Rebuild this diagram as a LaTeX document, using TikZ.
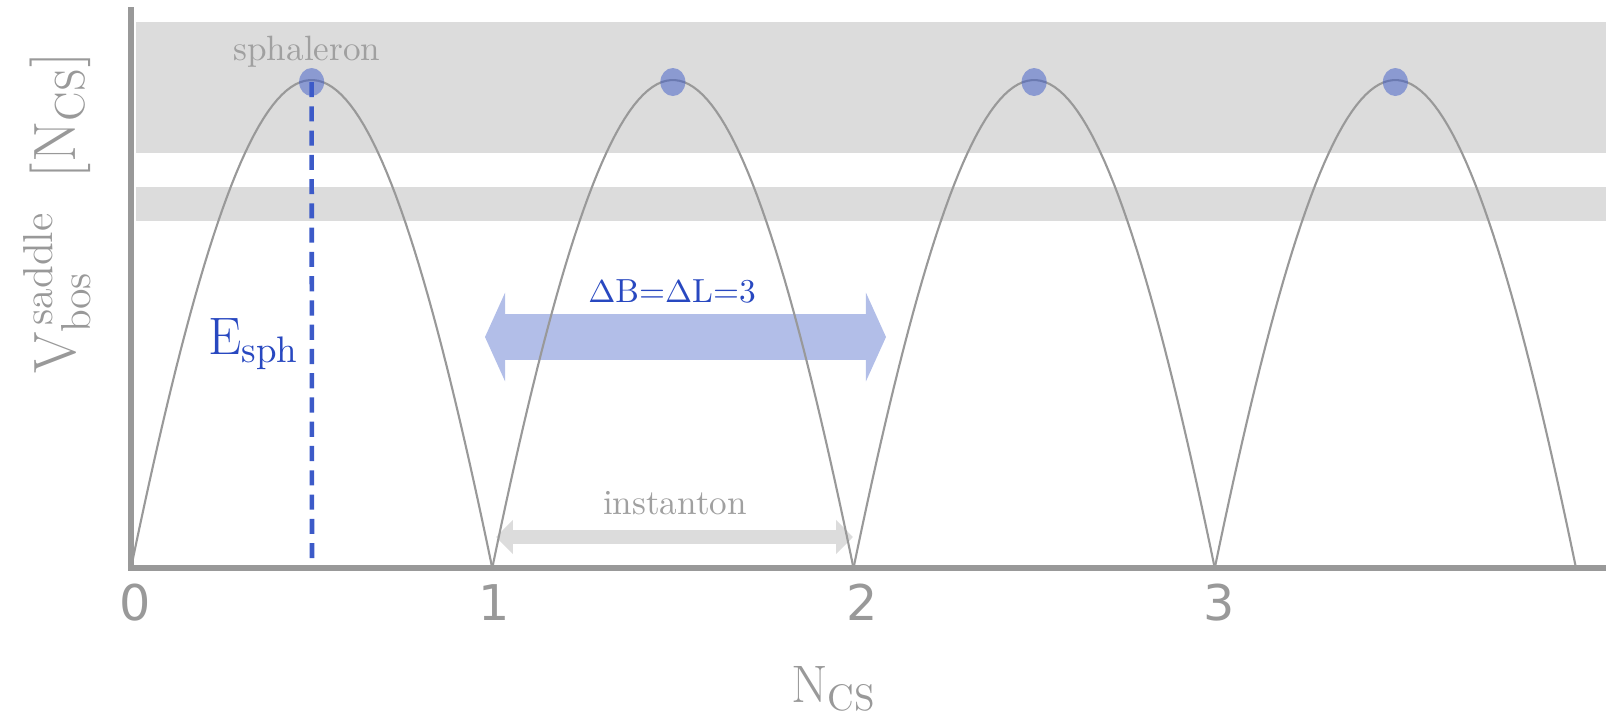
\documentclass[tikz,border=0pt]{standalone}
\usepackage{fontspec}
\newfontfamily\tickfont{DejaVu Sans}
\usepackage{xcolor}
\usepackage{tikz}
\usetikzlibrary{arrows.meta,shapes.geometric,positioning}
\definecolor{axisgray}{RGB}{153,153,153}
\definecolor{bandgray}{RGB}{220,220,220}
\definecolor{labelgray}{RGB}{160,160,160}
\definecolor{sphblue}{RGB}{60,90,200}
\definecolor{arrowblue}{RGB}{178,190,232}
\definecolor{textblue}{RGB}{40,72,192}

\begin{document}
\begin{tikzpicture}[x=0.01cm,y=-0.01cm,
  band/.style={fill=bandgray,draw=none},
  axisline/.style={draw=axisgray,line width=1.7pt,line join=miter},
  arch/.style={draw=axisgray,line width=0.6pt},
  sphdot/.style={ellipse,fill=sphblue,fill opacity=0.5,draw=none,
    minimum width=0.25cm,minimum height=0.28cm,inner sep=0pt},
  graylbl/.style={text=labelgray,font=\fontsize{10}{12}\selectfont},
  bluelbl/.style={text=textblue},
  ticklbl/.style={text=axisgray,font=\tickfont\fontsize{14}{16}\selectfont,anchor=base}]
\useasboundingbox (0,0) rectangle (1606,717);

% Gray bands
\fill[band] (136,22) rectangle (1606,153);
\fill[band] (136,187) rectangle (1606,221);

% Arrows (under the arches)
\coordinate (bl) at (485,337);
\coordinate (br) at (886,337);
\draw[arrowblue,line width=13pt,
  {Triangle[length=5.7pt,width=25pt]}-{Triangle[length=5.7pt,width=25pt]}] (bl) -- (br);
\coordinate (il) at (496,537);
\coordinate (ir) at (853,537);
\draw[bandgray,line width=4pt,
  {Triangle[length=4.8pt,width=9.4pt]}-{Triangle[length=4.8pt,width=9.4pt]}] (il) -- (ir);

% Axes
\coordinate (origin) at (131,568);
\draw[axisline] (131,7) -- (origin) -- (1606,568);

% Arches and sphalerons
\foreach \k in {0,...,3}{
  \draw[arch] plot[domain=0:1,samples=80,variable=\t]
    ({131+361.25*(\k+\t)},{568-488*(2*\t*(1-\t)+0.5*sin(180*\t))});
  \node[sphdot] (sph\k) at ({131+361.25*(\k+0.5)},82) {};
}

% Sphaleron energy
\coordinate (foot) at (312,566);
\draw[sphblue,line width=1.3pt,dash pattern=on 4.3pt off 2.6pt] (sph0.center) -- (foot);
\node[bluelbl,anchor=base,font=\fontsize{15}{18}\selectfont] (esph) at (254,354)
  {$\mathrm{E}_{\mathrm{sph}}$};

% Labels
\node[graylbl,anchor=base] (sphlbl) at (307,60) {sphaleron};
\node[graylbl,anchor=base] (instlbl) at (675,514) {instanton};
\node[bluelbl,anchor=base,font=\fontsize{9.5}{12}\selectfont] (bllbl) at (672,302)
  {$\Delta$B=$\Delta$L=3};

% Tick labels
\foreach \x/\lbl in {135/0, 494/1, 862/2, 1219/3}{
  \node[ticklbl] (tick\lbl) at (\x,620) {\lbl};
}

% Axis titles
\node[text=axisgray,anchor=base,font=\fontsize{15}{18}\selectfont] (xlbl) at (834,702)
  {$\mathrm{N}_{\mathrm{CS}}$};
\node[text=axisgray,anchor=base,rotate=90,font=\fontsize{17}{20}\selectfont] (ylbl) at (75,213)
  {$\mathrm{V}_{\mathrm{bos}}^{\,\mathrm{saddle}}\;\;[\mathrm{N}_{\mathrm{CS}}]$};
\end{tikzpicture}
\end{document}
